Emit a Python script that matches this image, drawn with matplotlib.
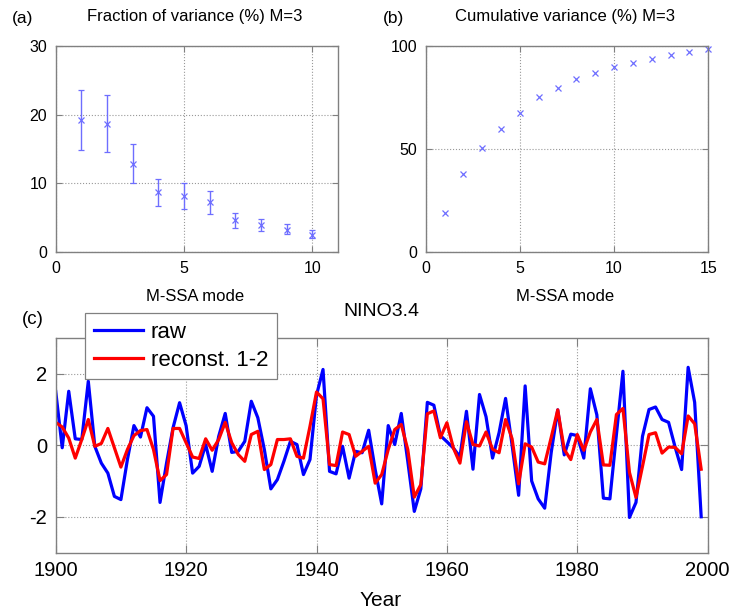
import numpy as np
import matplotlib
matplotlib.use('Agg')
import matplotlib.pyplot as plt

plt.rcParams['font.family'] = ['Liberation Sans', 'DejaVu Sans']
plt.rcParams['axes.unicode_minus'] = False

# ---------- data ----------
# (a) fraction of variance per mode, with error bars
modes_a = [1, 2, 3, 4, 5, 6, 7, 8, 9, 10]
frac_var = [19.2, 18.7, 12.8, 8.8, 8.2, 7.3, 4.7, 3.9, 3.2, 2.5]
frac_hi = [23.5, 22.9, 15.7, 10.7, 10.0, 8.85, 5.75, 4.8, 4.1, 3.2]
frac_lo = [14.85, 14.6, 10.0, 6.7, 6.3, 5.6, 3.6, 3.1, 2.6, 2.1]

# (b) cumulative variance
modes_b = list(range(1, 16))
cum_var = [19.2, 37.7, 50.6, 59.5, 67.5, 75.1, 79.5, 83.7, 86.9, 89.8,
           91.7, 93.7, 95.4, 97.0, 98.5]

# (c) NINO3.4 index, 1900-1999
years = np.arange(1900, 2000)
raw = [1.51, -0.07, 1.51, 0.18, 0.16, 1.79, -0.03, -0.5, -0.78, -1.43,
       -1.52, -0.4, 0.55, 0.23, 1.05, 0.81, -1.6, -0.5, 0.49, 1.19,
       0.55, -0.78, -0.59, 0.02, -0.73, 0.25, 0.89, -0.2, -0.17, 0.11,
       1.23, 0.77, -0.12, -1.22, -0.96, -0.45, 0.11, 0.02, -0.82, -0.4,
       1.4, 2.12, -0.73, -0.8, -0.03, -0.92, -0.17, -0.21, 0.42, -0.68,
       -1.64, 0.55, 0.02, 0.89, -0.45, -1.85, -1.22, 1.2, 1.12, 0.27,
       0.1, -0.08, -0.32, 0.95, -0.67, 1.42, 0.8, -0.36, 0.35, 1.31,
       0.0, -1.4, 1.66, -1.0, -1.5, -1.76, -0.2, 0.99, -0.27, 0.31,
       0.27, -0.36, 1.58, 0.85, -1.48, -1.5, 0.3, 2.07, -2.02, -1.6,
       0.25, 1.0, 1.07, 0.72, 0.64, -0.05, -0.68, 2.18, 1.2, -2.0]
recon = [0.64, 0.51, 0.2, -0.36, 0.16, 0.72, -0.03, 0.05, 0.47, -0.07,
         -0.61, -0.12, 0.27, 0.41, 0.44, -0.12, -0.99, -0.82, 0.47, 0.47,
         0.07, -0.33, -0.37, 0.18, -0.14, 0.16, 0.64, 0.07, -0.26, -0.45,
         0.3, 0.39, -0.68, -0.54, 0.16, 0.16, 0.18, -0.31, -0.36, 0.53,
         1.49, 1.3, -0.54, -0.57, 0.37, 0.3, -0.31, -0.17, -0.03, -1.06,
         -0.82, -0.12, 0.44, 0.58, -0.12, -1.45, -1.1, 0.88, 0.96, 0.21,
         0.63, -0.08, -0.5, 0.66, 0.02, -0.02, 0.37, -0.11, -0.21, 0.72,
         0.18, -1.08, 0.04, -0.05, -0.47, -0.52, 0.22, 0.99, -0.12, -0.4,
         0.3, -0.14, 0.37, 0.72, -0.55, -0.56, 0.86, 1.03, -0.76, -1.46,
         -0.59, 0.3, 0.35, -0.22, -0.05, -0.06, -0.24, 0.82, 0.6, -0.67]

W, H = 734, 612
fig = plt.figure(figsize=(W / 100, H / 100), dpi=100)

def box(left, top, right, bottom):
    # pixel box -> figure fraction
    return [left / W, 1 - bottom / H, (right - left) / W, (bottom - top) / H]

def matlab_style(ax, fs):
    for s in ax.spines.values():
        s.set_color('#808080')
        s.set_linewidth(1.0)
    ax.tick_params(direction='in', top=True, right=True, color='#808080',
                   labelsize=fs, length=4, width=0.8, pad=6)
    ax.grid(True, linestyle=':', color='#999999', linewidth=0.8)
    ax.set_axisbelow(True)

light_blue = '#6e6eff'

# ---------- (a) ----------
ax1 = fig.add_axes(box(55.7, 45.7, 338, 252.3))
frac_var = np.array(frac_var)
yerr = [frac_var - np.array(frac_lo), np.array(frac_hi) - frac_var]
ax1.errorbar(modes_a, frac_var, yerr=yerr, fmt='x', color=light_blue,
             ms=5, mew=0.9, elinewidth=1.0, capsize=2.5, capthick=1.0)
ax1.set_xlim(0, 11)
ax1.set_ylim(0, 30)
ax1.set_xticks([0, 5, 10])
ax1.set_yticks([0, 10, 20, 30])
matlab_style(ax1, 11.5)

# ---------- (b) ----------
ax2 = fig.add_axes(box(425.7, 45.7, 708.3, 252.3))
ax2.plot(modes_b, cum_var, 'x', color=light_blue, ms=5, mew=0.9, clip_on=False)
ax2.set_xlim(0, 15)
ax2.set_ylim(0, 100)
ax2.set_xticks([0, 5, 10, 15])
ax2.set_yticks([0, 50, 100])
matlab_style(ax2, 11.5)

# ---------- (c) ----------
ax3 = fig.add_axes(box(55.7, 338, 707.7, 552.5))
l1, = ax3.plot(years, raw, color='#0000ff', lw=2.3, label='raw')
l2, = ax3.plot(years, recon, color='#ff0000', lw=2.3, label='reconst. 1-2')
ax3.set_xlim(1900, 2000)
ax3.set_ylim(-3, 3)
ax3.set_xticks(np.arange(1900, 2001, 20))
ax3.set_yticks([-2, 0, 2])
matlab_style(ax3, 14.5)
ax3.tick_params(length=6)

leg = fig.legend(handles=[l1, l2], loc='upper left',
                 bbox_to_anchor=(85 / W, 1 - 313 / H), borderaxespad=0,
                 fontsize=16, handlelength=2.2, handletextpad=0.35,
                 borderpad=0.4, labelspacing=0.3, fancybox=False,
                 framealpha=1, edgecolor='#808080')
leg.get_frame().set_linewidth(0.9)

# ---------- titles and labels ----------
def ftext(x, y, s, size, ha='center'):
    fig.text(x / W, 1 - y / H, s, fontsize=size, ha=ha, va='center')

ftext(12, 19, '(a)', 12.5, ha='left')
ftext(195, 17, 'Fraction of variance (%) M=3', 12)
ftext(383, 19, '(b)', 12.5, ha='left')
ftext(565, 17, 'Cumulative variance (%) M=3', 12)
ftext(195, 296, 'M-SSA mode', 12)
ftext(565, 296, 'M-SSA mode', 12)
ftext(22, 320, '(c)', 13.5, ha='left')
ftext(381, 312, 'NINO3.4', 14)
ftext(381, 601, 'Year', 15)

fig.savefig('out.png', dpi=100)
